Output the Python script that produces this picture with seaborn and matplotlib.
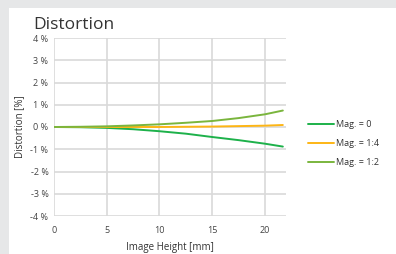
import pandas as pd
import seaborn as sns
import matplotlib.pyplot as plt

# image height [mm] and distortion [%] per magnification
height = [0, 2.5, 5, 7.5, 10, 12.5, 15, 17.5, 20, 21.7]
mag_0 = [0, -0.01, -0.04, -0.10, -0.19, -0.30, -0.45, -0.59, -0.75, -0.88]
mag_1_4 = [0, 0, 0, 0, 0, 0.01, 0.02, 0.04, 0.06, 0.09]
mag_1_2 = [0, 0.01, 0.03, 0.07, 0.12, 0.19, 0.27, 0.40, 0.57, 0.74]
labels = ["Mag. = 0", "Mag. = 1:4", "Mag. = 1:2"]
colors = ["#1db14a", "#fdb515", "#7ab53d"]

rows = []
for lab, vals in zip(labels, [mag_0, mag_1_4, mag_1_2]):
    for h, v in zip(height, vals):
        rows.append({"Image Height [mm]": h, "Distortion [%]": v, "series": lab})
df = pd.DataFrame(rows)

sns.set_style("white")
plt.rcParams['font.family'] = ['Open Sans', 'DejaVu Sans']

fig = plt.figure(figsize=(3.96, 2.54), dpi=100, facecolor="#e6e7e8")
# white panel behind the chart
fig.add_artist(plt.Rectangle((9/396, 0), 1, 1 - 8/254, transform=fig.transFigure,
                             facecolor="white", edgecolor="none", zorder=-5))
ax = fig.add_axes([54/396, 1 - 216/254, 232/396, 178/254])
ax.set_zorder(2)
ax.set_facecolor("white")

sns.lineplot(data=df, x="Image Height [mm]", y="Distortion [%]", hue="series",
             palette=colors, hue_order=labels, linewidth=1.4, ax=ax)

ax.set_xlim(0, 22)
ax.set_ylim(-4, 4)
ax.set_xticks([0, 5, 10, 15, 20])
ax.set_yticks(range(-4, 5))
ax.set_yticklabels([f"{t} %" for t in range(-4, 5)])
ax.grid(True, color="#d9d9d9", linewidth=1.2)
for s in ax.spines.values():
    s.set_visible(False)
ax.tick_params(length=0, labelsize=6.5, colors="#444444")
ax.tick_params(axis="x", pad=7)
ax.tick_params(axis="y", pad=4)
ax.set_xlabel("Image Height [mm]", fontsize=7, color="#333333", labelpad=5)
ax.set_ylabel("Distortion [%]", fontsize=7, color="#333333", labelpad=4)

fig.text(33/396, 1 - 29/254, "Distortion", fontsize=12.5, color="#333333")

leg = ax.legend(loc="upper left", bbox_to_anchor=(1.06, 0.585), frameon=False,
                fontsize=6.5, handlelength=2.9, handletextpad=0.15, labelspacing=1.1)
for t in leg.get_texts():
    t.set_color("#333333")

fig.savefig("out.png", dpi=100, facecolor=fig.get_facecolor())
